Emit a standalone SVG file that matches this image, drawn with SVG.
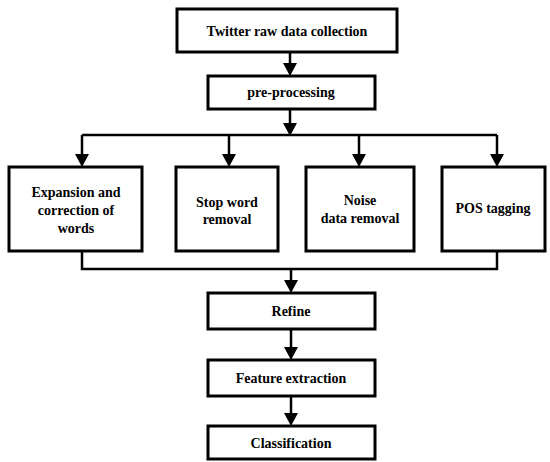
<svg xmlns="http://www.w3.org/2000/svg" width="550" height="462" viewBox="0 0 550 462">
<defs>
<path id="ah" d="M-7,-13 L7,-13 L0,0 Z" fill="#000"/>
</defs>
<rect width="550" height="462" fill="#fff"/>
<g id="connectors" fill="none" stroke="#000" stroke-width="2.5">
<line x1="290" y1="52" x2="290" y2="66"/>
<line x1="290" y1="109" x2="290" y2="125"/>
<line x1="82" y1="135" x2="497" y2="135"/>
<line x1="82" y1="135" x2="82" y2="157"/>
<line x1="229" y1="135" x2="229" y2="157"/>
<line x1="359" y1="135" x2="359" y2="157"/>
<line x1="497" y1="135" x2="497" y2="157"/>
<polyline points="82,251 82,269 497,269 497,251"/>
<line x1="291" y1="269" x2="291" y2="283"/>
<line x1="291" y1="329" x2="291" y2="350"/>
<line x1="291" y1="396" x2="291" y2="416"/>
<g stroke="none">
<use href="#ah" x="290" y="76"/>
<use href="#ah" x="290" y="136"/>
<use href="#ah" x="82" y="167"/>
<use href="#ah" x="229" y="167"/>
<use href="#ah" x="359" y="167"/>
<use href="#ah" x="497" y="167"/>
<use href="#ah" x="291" y="293"/>
<use href="#ah" x="291" y="360"/>
<use href="#ah" x="291" y="426"/>
</g>
</g>
<g font-family="Liberation Serif, Tinos, Times New Roman, Times, Noto Serif, DejaVu Serif, FreeSerif, serif" font-size="14" font-weight="bold" text-anchor="middle" fill="#000">
<g id="n1"><rect fill="#fff" stroke="#000" stroke-width="3" x="177" y="9" width="220" height="43"/><text x="287" y="36">Twitter raw data collection</text></g>
<g id="n2"><rect fill="#fff" stroke="#000" stroke-width="3" x="208" y="76" width="167" height="33"/><text x="291" y="97">pre-processing</text></g>
<g id="n3"><rect fill="#fff" stroke="#000" stroke-width="3" x="9" y="167" width="133" height="84"/><text x="76" y="197">Expansion and</text><text x="76" y="215">correction of</text><text x="76" y="233">words</text></g>
<g id="n4"><rect fill="#fff" stroke="#000" stroke-width="3" x="176" y="167" width="102" height="84"/><text x="227" y="207">Stop word</text><text x="227" y="224">removal</text></g>
<g id="n5"><rect fill="#fff" stroke="#000" stroke-width="3" x="306" y="167" width="108" height="84"/><text x="360" y="205">Noise</text><text x="360" y="223">data removal</text></g>
<g id="n6"><rect fill="#fff" stroke="#000" stroke-width="3" x="442" y="167" width="103" height="84"/><text x="493" y="213">POS tagging</text></g>
<g id="n7"><rect fill="#fff" stroke="#000" stroke-width="3" x="208" y="293" width="167" height="36"/><text x="291" y="316">Refine</text></g>
<g id="n8"><rect fill="#fff" stroke="#000" stroke-width="3" x="208" y="360" width="167" height="36"/><text x="291" y="383">Feature extraction</text></g>
<g id="n9"><rect fill="#fff" stroke="#000" stroke-width="3" x="208" y="426" width="167" height="33"/><text x="291" y="448">Classification</text></g>
</g>
</svg>
